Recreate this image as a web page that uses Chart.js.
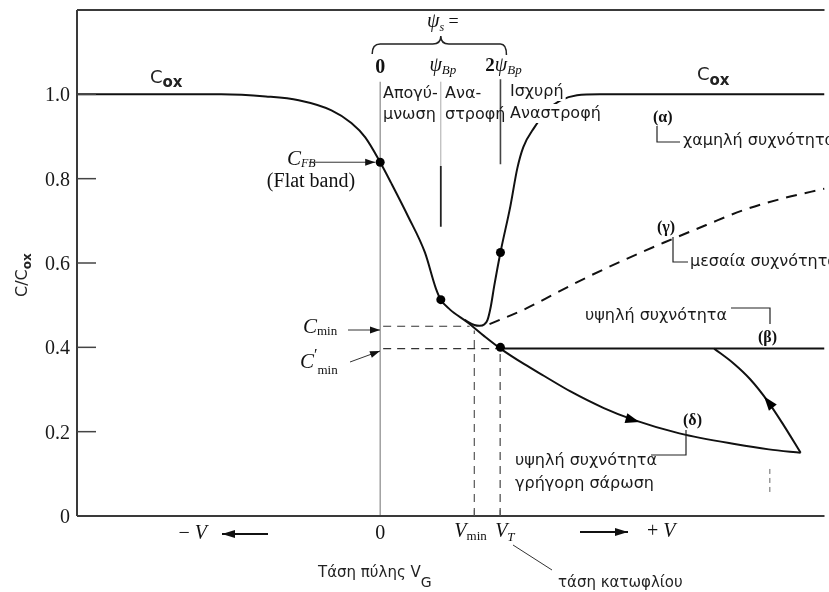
<!DOCTYPE html>
<html>
<head>
<meta charset="utf-8">
<script src="https://cdn.jsdelivr.net/npm/chart.js@4.4.1/dist/chart.umd.min.js"></script>
<style>
html,body{margin:0;padding:0;background:#fff;overflow:hidden}
#wrap{width:829px;height:592px;position:relative}
canvas{display:block}
</style>
</head>
<body>
<div id="wrap"><canvas id="c" width="829" height="592"></canvas></div>
<script>
// ---------- data ----------
const xAxisMin = -3.05, xAxisMax = 4.47;   // gate voltage, arbitrary units (0 = flat band)
const yAxisMin = 0, yAxisMax = 1.2;        // C / Cox

const yTicks = [0, 0.2, 0.4, 0.6, 0.8, 1.0];
const yTickLabels = ['0', '0.2', '0.4', '0.6', '0.8', '1.0'];
const xTickValues = [0, 0.947, 1.207];          // 0, Vmin, VT
const xTickNames = ['0', 'Vmin', 'VT'];

// common curve: accumulation -> depletion -> (δ) deep depletion, fast sweep
const mainX = [-3.05, -1.6, -1.15, -0.82, -0.49, -0.29, -0.15, 0, 0.11, 0.28, 0.45, 0.56, 0.61, 0.70, 0.88, 1.05, 1.21, 1.45, 1.65, 1.91, 2.25, 2.55, 3.01, 3.58, 3.91, 4.23];
const mainY = [1.0, 1.0, 0.995, 0.986, 0.962, 0.932, 0.898, 0.839, 0.79, 0.711, 0.625, 0.54, 0.513, 0.49, 0.459, 0.426, 0.397, 0.36, 0.332, 0.296, 0.256, 0.228, 0.196, 0.170, 0.158, 0.150];

// (α) low frequency
const alphaX = [0.85, 0.947, 1.0, 1.05, 1.08, 1.113, 1.147, 1.21, 1.31, 1.38, 1.44, 1.55, 1.68, 1.81, 1.98, 2.21, 4.47];
const alphaY = [0.465, 0.453, 0.451, 0.455, 0.465, 0.497, 0.545, 0.625, 0.735, 0.825, 0.875, 0.921, 0.962, 0.985, 0.998, 1.0, 1.0];

// (γ) medium frequency (dashed)
const gammaX = [1.10, 1.45, 1.78, 2.08, 2.48, 2.85, 3.28, 3.65, 4.08, 4.47];
const gammaY = [0.455, 0.49, 0.53, 0.566, 0.61, 0.648, 0.69, 0.725, 0.755, 0.776];

// (β) high frequency
const betaX = [1.21, 4.47];
const betaY = [0.397, 0.397];

// return branch of the fast sweep
const returnX = [3.36, 3.55, 3.72, 3.90, 4.06, 4.23];
const returnY = [0.397, 0.363, 0.325, 0.272, 0.215, 0.150];

// marked points
const markerX = [0, 0.61, 1.21, 1.21];
const markerY = [0.839, 0.513, 0.625, 0.40];

// reference / guide lines
const cminGuideX = [0.03, 0.9],      cminGuideY = [0.45, 0.45];
const cminPrimeGuideX = [0.03, 1.2], cminPrimeGuideY = [0.397, 0.397];
const vminGuideX = [0.947, 0.947],   vminGuideY = [0, 0.44];
const vtGuideX = [1.207, 1.207],     vtGuideY = [0, 0.397];
const sweepEndGuideX = [3.92, 3.92], sweepEndGuideY = [0.057, 0.116];
const zeroLineX = [0, 0],            zeroLineY = [0, 1.03];
const psiBLineX = [0.61, 0.61],      psiBLineY = [0.83, 1.03];
const psiBMarkX = [0.61, 0.61],      psiBMarkY = [0.686, 0.83];
const twoPsiBLineX = [1.21, 1.21],   twoPsiBLineY = [0.834, 1.036];

// arrows drawn along the fast-sweep curve: [x, y] position and [x, y] direction target
const sweepArrowAt = [2.55, 0.227], sweepArrowTo = [3.01, 0.196];
const returnArrowAt = [3.90, 0.272], returnArrowTo = [3.72, 0.325];

// ---------- helpers ----------
const pts = (xs, ys) => xs.map((x, i) => ({x, y: ys[i]}));
const SERIF = '"Liberation Serif", "Times New Roman", serif';
const SANS = '"DejaVu Sans", "Liberation Sans", sans-serif';

function lineDs(xs, ys, opts) {
  return Object.assign({
    data: pts(xs, ys), showLine: true, pointRadius: 0, pointHoverRadius: 0,
    borderColor: '#111', borderWidth: 2, fill: false, tension: 0
  }, opts || {});
}

const datasets = [
  {data: pts(markerX, markerY), showLine: false, pointRadius: 4.5, pointBackgroundColor: '#000', pointBorderColor: '#000', pointBorderWidth: 0},
  lineDs(mainX, mainY, {cubicInterpolationMode: 'monotone'}),
  lineDs(alphaX, alphaY, {cubicInterpolationMode: 'monotone'}),
  lineDs(gammaX, gammaY, {cubicInterpolationMode: 'monotone', borderDash: [11, 8]}),
  lineDs(betaX, betaY),
  lineDs(returnX, returnY, {cubicInterpolationMode: 'monotone'}),
  lineDs(cminGuideX, cminGuideY, {borderWidth: 1.2, borderColor: '#333', borderDash: [8, 6]}),
  lineDs(cminPrimeGuideX, cminPrimeGuideY, {borderWidth: 1.2, borderColor: '#333', borderDash: [8, 6]}),
  lineDs(vminGuideX, vminGuideY, {borderWidth: 1.2, borderColor: '#555', borderDash: [8, 6]}),
  lineDs(vtGuideX, vtGuideY, {borderWidth: 1.2, borderColor: '#444', borderDash: [8, 6]}),
  lineDs(sweepEndGuideX, sweepEndGuideY, {borderWidth: 1, borderColor: '#666', borderDash: [5, 4]}),
  lineDs(zeroLineX, zeroLineY, {borderWidth: 1.2, borderColor: '#888'}),
  lineDs(psiBLineX, psiBLineY, {borderWidth: 1, borderColor: '#aaa'}),
  lineDs(psiBMarkX, psiBMarkY, {borderWidth: 1.8, borderColor: '#222'}),
  lineDs(twoPsiBLineX, twoPsiBLineY, {borderWidth: 1.6, borderColor: '#444'})
];

function rich(ctx, x, y, parts, align) {
  let w = 0;
  parts.forEach(p => { ctx.font = p[1]; w += ctx.measureText(p[0]).width; });
  let cx = align === 'center' ? x - w / 2 : align === 'right' ? x - w : x;
  ctx.textAlign = 'left'; ctx.textBaseline = 'alphabetic';
  parts.forEach(p => { ctx.font = p[1]; ctx.fillText(p[0], cx, y + (p[2] || 0)); cx += ctx.measureText(p[0]).width; });
  return w;
}
function seg(ctx, x1, y1, x2, y2) { ctx.beginPath(); ctx.moveTo(x1, y1); ctx.lineTo(x2, y2); ctx.stroke(); }
function head(ctx, x, y, ang, len, hw) {
  ctx.save(); ctx.translate(x, y); ctx.rotate(ang);
  ctx.beginPath(); ctx.moveTo(0, 0); ctx.lineTo(-len, -hw); ctx.lineTo(-len, hw); ctx.closePath(); ctx.fill();
  ctx.restore();
}
function arrow(ctx, x1, y1, x2, y2, len, hw) {
  seg(ctx, x1, y1, x2, y2);
  head(ctx, x2, y2, Math.atan2(y2 - y1, x2 - x1), len, hw);
}
function bgText(ctx, txt, x, y, font) {
  ctx.font = font;
  const w = ctx.measureText(txt).width;
  ctx.fillStyle = '#fff';
  ctx.fillRect(x - 2, y - 14, w + 4, 19);
  ctx.fillStyle = '#1a1a1a';
  ctx.textAlign = 'left'; ctx.textBaseline = 'alphabetic';
  ctx.fillText(txt, x, y);
}

const annot = {
  id: 'annot',
  afterDatasetsDraw(chart) {
    const {ctx, chartArea: a} = chart;
    const xs = chart.scales.x, ys = chart.scales.y;
    const X = v => xs.getPixelForValue(v), Y = v => ys.getPixelForValue(v);
    ctx.save();
    ctx.lineCap = 'butt';

    // axes frame
    ctx.strokeStyle = '#3a3a3a'; ctx.lineWidth = 2;
    seg(ctx, a.left, a.top, a.left, a.bottom);
    seg(ctx, a.left, a.top, a.right, a.top);
    seg(ctx, a.left, a.bottom, a.right, a.bottom);

    // y ticks (inside) and labels
    ctx.lineWidth = 1.5; ctx.strokeStyle = '#444';
    ctx.fillStyle = '#1a1a1a';
    yTicks.forEach((v, i) => {
      if (v > 0) seg(ctx, a.left, Y(v), a.left + 19, Y(v));
      ctx.font = '20px ' + SERIF; ctx.textAlign = 'right'; ctx.textBaseline = 'alphabetic';
      ctx.fillText(yTickLabels[i], a.left - 7, Y(v) + 7);
    });

    // x small ticks at Vmin, VT
    ctx.lineWidth = 1; ctx.strokeStyle = '#555';
    xTickValues.slice(1).forEach(v => seg(ctx, X(v), a.bottom, X(v), a.bottom - 6));

    // x labels
    ctx.fillStyle = '#111';
    const it20 = 'italic 20px ' + SERIF, r20 = '20px ' + SERIF, r13 = '13px ' + SERIF;
    rich(ctx, X(xTickValues[0]), 539, [[xTickNames[0], r20]], 'center');
    rich(ctx, X(xTickValues[1]) - 20, 537, [['V', it20], ['min', r13, 3]], 'left');
    rich(ctx, X(xTickValues[2]) - 5, 537, [['V', it20], ['T', 'italic 13px ' + SERIF, 4]], 'left');
    rich(ctx, 207, 539, [['\u2212 ', r20], ['V', it20]], 'right');
    rich(ctx, 647, 537, [['+ ', r20], ['V', it20]], 'left');
    ctx.fillStyle = '#111'; ctx.strokeStyle = '#111'; ctx.lineWidth = 1.8;
    arrow(ctx, 268, 534, 222, 534, 13, 4);
    arrow(ctx, 580, 532, 628, 532, 13, 4);

    // x title
    ctx.fillStyle = '#222';
    rich(ctx, 318, 577, [['Τάση πύλης V', '15px ' + SANS], ['G', '14px ' + SANS, 10]], 'left');
    // threshold voltage note
    ctx.font = '15px ' + SANS; ctx.textAlign = 'left';
    ctx.fillText('τάση κατωφλίου', 558, 587);
    ctx.strokeStyle = '#333'; ctx.lineWidth = 1;
    seg(ctx, 513, 545, 552, 570);

    // y title (rotated)
    ctx.save();
    ctx.translate(27, 297); ctx.rotate(-Math.PI / 2);
    ctx.fillStyle = '#222';
    rich(ctx, 0, 0, [['C/C', '16px ' + SANS], ['ox', 'bold 12px ' + SANS, 4]], 'left');
    ctx.restore();

    // Cox labels
    ctx.fillStyle = '#222';
    rich(ctx, 150, 83, [['C', '18px ' + SANS], ['ox', 'bold 15px ' + SANS, 4]], 'left');
    rich(ctx, 697, 80, [['C', '18px ' + SANS], ['ox', 'bold 15px ' + SANS, 5]], 'left');

    // ψs brace
    const bl = X(0) - 8, br = X(twoPsiBLineX[0]) + 6, bm = X(psiBLineX[0]), by = 44;
    ctx.strokeStyle = '#222'; ctx.lineWidth = 1.5;
    ctx.beginPath();
    ctx.moveTo(bl, by + 10);
    ctx.quadraticCurveTo(bl, by, bl + 8, by);
    ctx.lineTo(bm - 8, by);
    ctx.quadraticCurveTo(bm, by, bm, by - 8);
    ctx.quadraticCurveTo(bm, by, bm + 8, by);
    ctx.lineTo(br - 6, by);
    ctx.quadraticCurveTo(br, by, br, by + 11);
    ctx.stroke();
    ctx.fillStyle = '#111';
    rich(ctx, 427, 27, [['ψ', it20], ['s', 'italic 12px ' + SERIF, 4], [' =', '18px ' + SERIF]], 'left');
    rich(ctx, X(0), 73, [['0', 'bold 20px ' + SERIF]], 'center');
    rich(ctx, X(psiBLineX[0]) + 2, 71, [['ψ', it20], ['Bp', 'italic 13px ' + SERIF, 3]], 'center');
    rich(ctx, X(twoPsiBLineX[0]) + 3, 71, [['2', 'bold 19px ' + SERIF], ['ψ', it20], ['Bp', 'italic 13px ' + SERIF, 3]], 'center');

    // region labels
    const g16 = '16px ' + SANS;
    ctx.fillStyle = '#1a1a1a'; ctx.font = g16; ctx.textAlign = 'left';
    ctx.fillText('Απογύ-', 383, 98);
    ctx.fillText('μνωση', 383, 119);
    ctx.fillText('Ανα-', 445, 98);
    ctx.fillText('στροφή', 445, 119);
    bgText(ctx, 'Ισχυρή', 510, 96, g16);
    bgText(ctx, 'Αναστροφή', 510, 118, g16);

    // (α) low frequency
    const b16 = 'bold 16px ' + SERIF;
    ctx.fillStyle = '#111';
    rich(ctx, 653, 122, [['(α)', b16]], 'left');
    ctx.strokeStyle = '#222'; ctx.lineWidth = 1.2;
    ctx.beginPath(); ctx.moveTo(657, 126); ctx.lineTo(657, 142); ctx.lineTo(680, 142); ctx.stroke();
    ctx.font = g16; ctx.fillStyle = '#1a1a1a';
    ctx.fillText('χαμηλή συχνότητα', 683, 145);

    // (γ) medium frequency
    ctx.fillStyle = '#111';
    rich(ctx, 657, 232, [['(γ)', b16]], 'left');
    ctx.beginPath(); ctx.moveTo(673, 237); ctx.lineTo(673, 262); ctx.lineTo(688, 262); ctx.stroke();
    ctx.font = g16; ctx.fillStyle = '#1a1a1a';
    ctx.fillText('μεσαία συχνότητα', 690, 266);

    // (β) high frequency
    ctx.fillText('υψηλή συχνότητα', 585, 320);
    ctx.beginPath(); ctx.moveTo(731, 308); ctx.lineTo(770, 308); ctx.lineTo(770, 324); ctx.stroke();
    ctx.fillStyle = '#111';
    rich(ctx, 758, 342, [['(β)', b16]], 'left');

    // (δ) high frequency, fast sweep
    rich(ctx, 683, 425, [['(δ)', b16]], 'left');
    ctx.beginPath(); ctx.moveTo(686, 430); ctx.lineTo(686, 455); ctx.lineTo(651, 455); ctx.stroke();
    ctx.font = g16; ctx.fillStyle = '#1a1a1a';
    ctx.fillText('υψηλή συχνότητα', 515, 465);
    ctx.fillText('γρήγορη σάρωση', 515, 488);

    // sweep arrows on curve (δ)
    ctx.fillStyle = '#000';
    [[sweepArrowAt, sweepArrowTo], [returnArrowAt, returnArrowTo]].forEach(([p, q]) => {
      const x1 = X(p[0]), y1 = Y(p[1]), x2 = X(q[0]), y2 = Y(q[1]);
      head(ctx, x1 + 6 * Math.cos(Math.atan2(y2 - y1, x2 - x1)), y1 + 6 * Math.sin(Math.atan2(y2 - y1, x2 - x1)), Math.atan2(y2 - y1, x2 - x1), 14, 5);
    });

    // C_FB
    ctx.fillStyle = '#111';
    rich(ctx, 287, 165, [['C', 'italic 21px ' + SERIF], ['FB', 'italic 12px ' + SERIF, 2]], 'left');
    ctx.fillStyle = '#111';
    ctx.font = 'italic 21px ' + SERIF;
    rich(ctx, 311, 187, [['(Flat band)', '20px ' + SERIF]], 'center');
    ctx.strokeStyle = '#333'; ctx.lineWidth = 1; ctx.fillStyle = '#111';
    arrow(ctx, 309, Y(markerY[0]), X(0) - 5, Y(markerY[0]), 10, 3.5);

    // Cmin, C'min
    rich(ctx, 303, 333, [['C', 'italic 21px ' + SERIF], ['min', '13px ' + SERIF, 2]], 'left');
    rich(ctx, 300, 368, [['C', 'italic 21px ' + SERIF], ['′', '16px ' + SERIF, -8], ['min', '13px ' + SERIF, 6]], 'left');
    ctx.strokeStyle = '#333'; ctx.lineWidth = 1;
    arrow(ctx, 348, 330, 380, 330, 10, 3.5);
    arrow(ctx, 350, 362, 380, 351, 10, 3.5);

    ctx.restore();
  }
};

new Chart(document.getElementById('c').getContext('2d'), {
  type: 'scatter',
  data: {datasets},
  options: {
    responsive: false,
    animation: false,
    events: [],
    layout: {padding: {left: 77, top: 10, right: 0, bottom: 76}},
    scales: {
      x: {type: 'linear', min: xAxisMin, max: xAxisMax, display: false},
      y: {type: 'linear', min: yAxisMin, max: yAxisMax, display: false}
    },
    plugins: {legend: {display: false}, tooltip: {enabled: false}}
  },
  plugins: [annot]
});
</script>
</body>
</html>
